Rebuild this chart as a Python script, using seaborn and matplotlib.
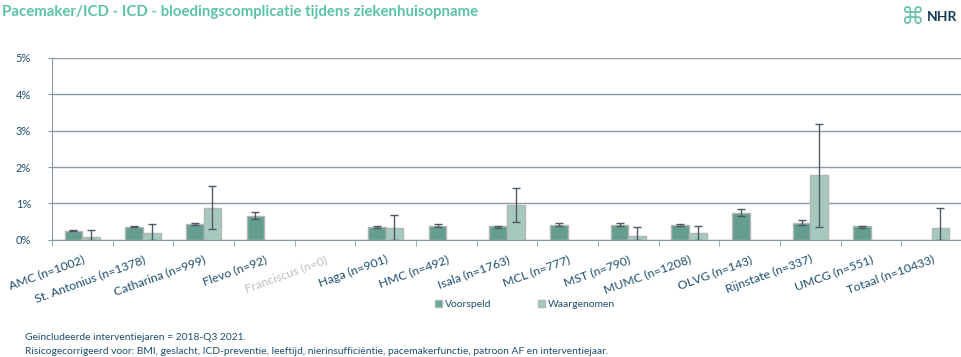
import matplotlib
matplotlib.use("Agg")
import matplotlib.pyplot as plt
from matplotlib.ticker import FixedLocator, PercentFormatter
import numpy as np
import pandas as pd
import seaborn as sns

# data (in %)
categories = ["AMC (n=1002)", "St. Antonius (n=1378)", "Catharina (n=999)", "Flevo (n=92)",
              "Franciscus (n=0)", "Haga (n=901)", "HMC (n=492)", "Isala (n=1763)",
              "MCL (n=777)", "MST (n=790)", "MUMC (n=1208)", "OLVG (n=143)",
              "Rijnstate (n=337)", "UMCG (n=551)", "Totaal (n=10433)"]
voorspeld = [0.25, 0.36, 0.44, 0.66, np.nan, 0.36, 0.38, 0.37, 0.42, 0.42, 0.42, 0.74, 0.47, 0.37, np.nan]
voorspeld_lo = [0.24, 0.35, 0.42, 0.58, np.nan, 0.33, 0.35, 0.33, 0.38, 0.38, 0.39, 0.66, 0.42, 0.34, np.nan]
voorspeld_hi = [0.27, 0.38, 0.47, 0.77, np.nan, 0.38, 0.44, 0.39, 0.47, 0.47, 0.44, 0.85, 0.56, 0.39, np.nan]
waargenomen = [0.09, 0.20, 0.88, np.nan, np.nan, 0.33, np.nan, 0.95, np.nan, 0.12, 0.18, np.nan, 1.79, np.nan, 0.34]
waargenomen_lo = [0.0, 0.0, 0.30, np.nan, np.nan, 0.0, np.nan, 0.50, np.nan, 0.0, 0.0, np.nan, 0.36, np.nan, 0.0]
waargenomen_hi = [0.27, 0.45, 1.48, np.nan, np.nan, 0.69, np.nan, 1.42, np.nan, 0.36, 0.39, np.nan, 3.19, np.nan, 0.87]
series = ["Voorspeld", "Waargenomen"]

df = pd.DataFrame({
    "cat": categories * 2,
    "serie": [series[0]] * len(categories) + [series[1]] * len(categories),
    "val": voorspeld + waargenomen,
    "lo": voorspeld_lo + waargenomen_lo,
    "hi": voorspeld_hi + waargenomen_hi,
})

sns.set_style("white")
plt.rcParams["font.family"] = ["Lato", "DejaVu Sans"]

fig = plt.figure(figsize=(9.62, 3.57), dpi=100)
ax = fig.add_axes([0.054, 0.328, 0.946, 0.51])

colors = {"Voorspeld": "#5aa896", "Waargenomen": "#9fcfc2"}
sns.barplot(data=df.dropna(subset=["val"]), x="cat", y="val", hue="serie",
            order=categories, hue_order=series, palette=colors, width=0.58,
            errorbar=None, edgecolor="#b5b5b5", linewidth=1, ax=ax, zorder=3)

# error bars
for cont, name in zip(ax.containers, series):
    sub = df[df["serie"] == name].reset_index(drop=True)
    for bar in cont:
        xc = bar.get_x() + bar.get_width() / 2
        i = int(round(xc))
        row = sub.iloc[i]
        if np.isnan(row["hi"]):
            continue
        ax.errorbar(xc, row["val"], yerr=[[row["val"] - row["lo"]], [row["hi"] - row["val"]]],
                    fmt="none", ecolor="#4f5963", elinewidth=1, capsize=3, capthick=1, zorder=4)

grid_c = "#8c99a4"
ax.set_ylim(0, 5)
ax.set_xlim(-0.5, len(categories) - 0.5)
ax.yaxis.set_major_locator(FixedLocator([0, 1, 2, 3, 4, 5]))
ax.yaxis.set_major_formatter(PercentFormatter(100, decimals=0))
ax.grid(axis="y", color=grid_c, linewidth=1, zorder=0)
for s in ["top", "right"]:
    ax.spines[s].set_visible(False)
ax.spines["left"].set_color(grid_c)
ax.spines["bottom"].set_color(grid_c)
ax.spines["bottom"].set_zorder(5)

ax.set_xlabel("")
ax.set_ylabel("")
ax.tick_params(axis="y", length=3, color=grid_c, labelsize=8, labelcolor="#1f4e6e", pad=12, left=True)
ax.set_xticks(range(len(categories)))
ax.set_xticklabels(categories, rotation=20, ha="right", rotation_mode="anchor",
                   fontsize=8.8, color="#1f4e6e")
ax.tick_params(axis="x", which="major", length=0, pad=10)
ax.set_xticks(np.arange(-0.5, len(categories), 1), minor=True)
ax.tick_params(axis="x", which="minor", length=4, color=grid_c, bottom=True)
for lbl in ax.get_xticklabels():
    if lbl.get_text().startswith("Franciscus"):
        lbl.set_color("#bdbdbd")

ax.legend_.remove()
handles = [plt.Rectangle((0, 0), 1, 1, facecolor=colors[s], edgecolor="#b5b5b5") for s in series]
fig.legend(handles, series, loc="center", bbox_to_anchor=(0.546, 0.148), ncol=2, frameon=False,
           fontsize=7.5, handlelength=0.65, handleheight=0.65, handletextpad=0.3, columnspacing=4.5,
           labelcolor="#1f4e6e")

fig.text(0.002, 0.965, "Pacemaker/ICD - ICD - bloedingscomplicatie tijdens ziekenhuisopname",
         fontsize=10.8, fontweight="bold", color="#5cc2a6", va="center", ha="left")
fig.text(0.948, 0.953, "\u2318", fontsize=17, color="#6cc3ad", va="center", ha="center",
         family=["DejaVu Sans"])
fig.text(0.963, 0.953, "NHR", fontsize=10, fontweight="bold", color="#173a55", va="center", ha="left")

fig.text(0.026, 0.056, "Geïncludeerde interventiejaren = 2018-Q3 2021.", fontsize=7.4,
         color="#1f4e6e", va="center")
fig.text(0.026, 0.016, "Risicogecorrigeerd voor: BMI, geslacht, ICD-preventie, leeftijd, nierinsufficiëntie, "
         "pacemakerfunctie, patroon AF en interventiejaar.", fontsize=7.4, color="#1f4e6e", va="center")

fig.savefig("out.png", dpi=100)
